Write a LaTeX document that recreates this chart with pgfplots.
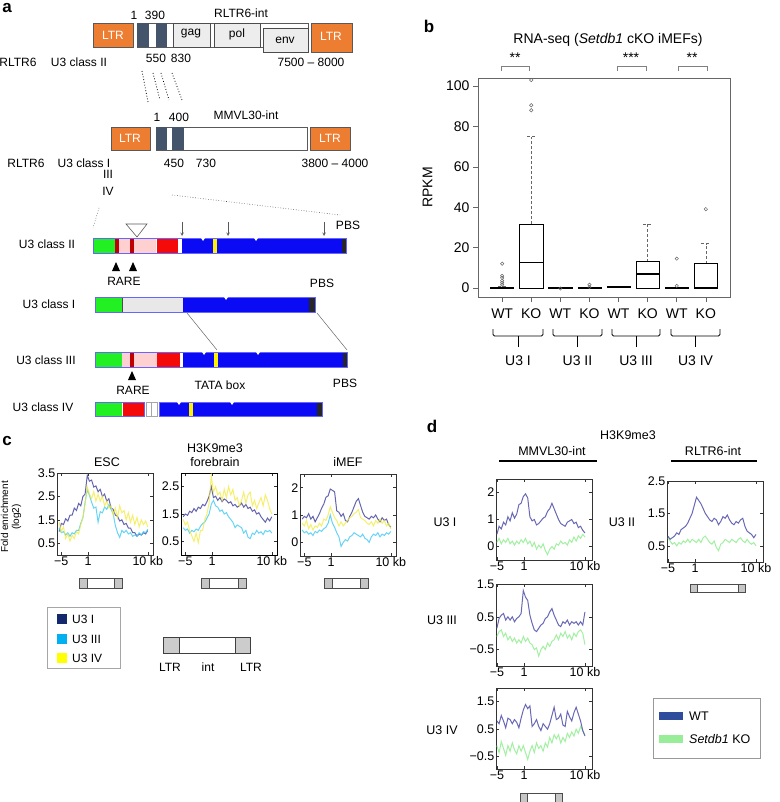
\documentclass[border=0pt]{standalone}
\usepackage{fontspec}
\setmainfont{Liberation Sans}
\usepackage{pgfplots}
\usepackage{pgfplotstable}
\pgfplotsset{compat=1.18}
\usepgfplotslibrary{statistics}

\definecolor{ltr}{HTML}{ED7D31}
\definecolor{slate}{HTML}{44546A}
\definecolor{bblue}{HTML}{0A0AF5}
\definecolor{bgreen}{HTML}{22F022}
\definecolor{bred}{HTML}{F50A0A}
\definecolor{dred}{HTML}{C00000}
\definecolor{bpink}{HTML}{FFD0D0}
\definecolor{byel}{HTML}{FFF200}
\definecolor{cI}{HTML}{4A4AA0}
\definecolor{cIII}{HTML}{4CCDF5}
\definecolor{cIV}{HTML}{F2EA3C}
\definecolor{legI}{HTML}{14286E}
\definecolor{legIII}{HTML}{00B0F0}
\definecolor{legIV}{HTML}{FFFF00}
\definecolor{wt}{HTML}{5858AC}
\definecolor{ko}{HTML}{98EE98}
\definecolor{legwt}{HTML}{2E4D9A}

\newcommand\fa{\fontsize{12}{14}\selectfont}
\newcommand\fc{\fontsize{12.5}{14}\selectfont}
\newcommand\fb{\fontsize{14}{16}\selectfont}

\pgfplotsset{
  prof/.style={scale only axis, anchor=north west, width=96pt,
    xtick={0,31,100}, xticklabels={−5,1,10 kb},
    tick align=inside, major tick length=3pt,
    axis line style={black!80, line width=0.7pt},
    every tick/.style={black!80, line width=0.5pt},
    font=\fc,
    every axis plot/.append style={line width=1pt, mark=none},
    xticklabel style={inner sep=1.5pt}, yticklabel style={inner sep=1.5pt}},
  profc/.style={prof, xmin=-5, xmax=106},
  profd/.style={prof, xmin=-1, xmax=108},
  bp/.style={draw=black, line width=0.6pt, mark=o, mark size=1.7pt,
    mark options={draw=gray!80!black, line width=0.5pt, solid}},
}

\begin{document}
\pgfplotstableread{
x a b c
-2.5 1.00 1.15 1.40
0 1.35 0.95 1.00
2.5 1.30 1.00 1.20
5 1.55 0.85 0.70
7.5 1.45 0.95 0.90
10 1.70 0.80 0.60
12.5 1.70 0.95 0.85
15 2.00 0.90 0.70
17.5 1.90 1.05 1.00
20 2.20 1.05 0.90
22.5 2.10 1.35 1.30
25 2.50 1.60 1.60
27.5 2.60 2.25 2.20
30 3.40 2.80 2.90
32.5 3.15 2.55 2.60
35 3.20 2.25 2.40
37.5 2.90 2.00 2.70
40 2.95 2.05 2.30
42.5 2.70 1.40 2.60
45 2.80 1.85 2.30
47.5 2.50 1.80 2.50
50 2.60 2.05 2.10
52.5 2.30 1.95 2.30
55 2.40 2.15 2.00
57.5 2.00 1.95 2.10
60 1.95 1.75 1.70
62.5 1.70 1.25 2.00
65 1.65 0.95 1.60
67.5 1.45 0.75 2.10
70 1.50 1.05 1.80
72.5 1.30 0.95 1.90
75 1.35 1.05 1.50
77.5 1.15 0.90 1.80
80 1.15 0.95 1.40
82.5 0.95 0.80 1.70
85 0.95 0.85 1.30
87.5 0.80 0.80 1.60
90 0.90 0.95 1.20
92.5 0.85 0.85 1.50
95 0.95 1.00 1.30
97.5 0.90 0.95 1.45
100 1.05 1.10 1.20
}\tESC
\pgfplotstableread{
x a b c
-2.5 1.40 1.00 1.30
0 1.50 0.90 1.10
2.5 1.45 0.95 1.20
5 1.60 0.80 0.90
7.5 1.55 0.90 0.70
10 1.70 0.85 0.50
12.5 1.60 0.95 0.80
15 1.75 0.90 0.45
17.5 1.70 1.05 0.90
20 1.85 1.15 0.90
22.5 1.80 1.20 1.30
25 1.95 1.35 1.50
27.5 2.15 1.50 1.90
30 2.50 1.85 2.90
32.5 2.10 2.00 2.30
35 2.15 1.80 2.50
37.5 2.00 1.75 2.20
40 2.10 1.60 2.30
42.5 1.95 1.65 2.00
45 2.05 1.50 2.40
47.5 2.00 1.55 2.10
50 1.90 1.40 2.50
52.5 1.95 1.30 2.20
55 1.80 1.20 2.40
57.5 1.85 1.00 2.00
60 1.75 1.10 2.10
62.5 1.80 1.05 1.80
65 1.90 1.00 2.00
67.5 1.75 0.80 2.30
70 1.85 0.90 1.90
72.5 1.70 0.65 2.20
75 1.75 0.60 2.30
77.5 1.60 0.80 1.80
80 1.65 0.75 2.00
82.5 1.50 0.90 1.70
85 1.55 0.80 1.90
87.5 1.40 0.85 2.10
90 1.30 0.75 1.80
92.5 1.20 0.90 2.20
95 1.35 0.85 2.00
97.5 1.25 0.90 1.70
100 1.40 0.80 1.50
}\tFB
\pgfplotstableread{
x a b c
-2.5 0.85 0.45 0.70
0 0.95 0.35 0.60
2.5 0.90 0.40 0.80
5 1.05 0.30 0.50
7.5 0.85 0.35 0.65
10 0.95 0.25 0.45
12.5 0.75 0.40 0.60
15 0.90 0.35 0.55
17.5 1.05 0.45 0.70
20 1.25 0.40 0.60
22.5 1.40 0.50 0.85
25 1.65 0.55 0.80
27.5 1.70 0.70 1.00
30 1.95 1.00 1.30
32.5 1.90 0.70 1.10
35 1.85 0.55 0.90
37.5 1.15 0.35 0.80
40 1.10 0.20 0.60
42.5 0.95 -0.15 0.75
45 1.05 0.00 0.60
47.5 0.80 0.10 0.70
50 0.75 0.05 0.80
52.5 0.95 0.20 0.90
55 1.10 0.25 0.95
57.5 1.30 0.35 1.05
60 1.50 0.30 1.10
62.5 1.60 0.25 1.20
65 1.35 0.20 0.90
67.5 1.10 0.30 0.85
70 0.95 0.15 0.80
72.5 0.90 0.10 0.70
75 0.85 0.00 0.65
77.5 0.95 0.20 0.75
80 0.90 0.30 0.60
82.5 1.00 0.25 0.80
85 0.85 0.35 0.70
87.5 0.75 0.20 0.85
90 0.90 0.30 0.70
92.5 0.80 0.25 0.80
95 0.85 0.35 0.60
97.5 0.65 0.30 0.70
100 0.55 0.40 0.50
}\tMEF
\pgfplotstableread{
x wt ko
0 0.45 0.15
2.5 0.75 0.30
5 0.65 0.10
7.5 0.90 0.25
10 0.80 0.15
12.5 1.10 0.30
15 0.95 0.10
17.5 1.25 0.20
20 1.05 0.05
22.5 1.20 0.20
25 1.55 0.10
27.5 1.60 0.25
30 1.85 0.15
32.5 1.95 0.30
35 1.80 0.10
37.5 1.10 0.20
40 0.95 0.00
42.5 1.00 0.15
45 0.80 -0.10
47.5 0.85 0.05
50 0.95 -0.05
52.5 1.05 0.10
55 1.10 -0.15
57.5 1.30 -0.30
60 1.40 -0.10
62.5 1.60 0.00
65 1.40 -0.10
67.5 1.20 0.10
70 1.00 0.05
72.5 0.85 0.20
75 0.80 0.10
77.5 0.75 0.15
80 0.90 0.05
82.5 0.95 0.25
85 1.00 0.15
87.5 0.85 0.35
90 0.90 0.20
92.5 0.70 0.40
95 0.75 0.30
97.5 0.60 0.45
100 0.50 0.35
}\tdI
\pgfplotstableread{
x wt ko
0 0.15 -0.10
2.5 0.45 0.05
5 0.55 0.10
7.5 0.60 -0.10
10 0.40 0.00
12.5 0.50 -0.20
15 0.40 -0.10
17.5 0.50 -0.25
20 0.35 -0.15
22.5 0.45 -0.30
25 0.50 -0.20
27.5 0.60 -0.30
30 1.30 -0.10
32.5 1.10 -0.25
35 1.00 -0.15
37.5 0.55 -0.30
40 0.30 -0.35
42.5 0.10 -0.50
45 0.05 -0.45
47.5 0.15 -0.70
50 0.25 -0.50
52.5 0.30 -0.40
55 0.45 -0.50
57.5 0.50 -0.30
60 0.65 -0.40
62.5 0.75 -0.25
65 0.55 -0.20
67.5 0.40 -0.05
70 0.25 -0.20
72.5 0.20 0.00
75 0.35 -0.10
77.5 0.30 0.05
80 0.40 -0.15
82.5 0.25 -0.05
85 0.35 -0.20
87.5 0.30 0.00
90 0.35 -0.10
92.5 0.25 0.05
95 0.35 0.10
97.5 0.25 0.00
100 0.65 -0.35
}\tdIII
\pgfplotstableread{
x wt ko
0 0.80 -0.10
2.5 0.70 -0.35
5 1.00 0.05
7.5 0.80 -0.20
10 0.55 -0.45
12.5 0.90 -0.10
15 0.85 -0.30
17.5 0.70 0.00
20 0.85 -0.25
22.5 0.75 -0.40
25 0.55 -0.10
27.5 0.90 -0.30
30 1.20 -0.10
32.5 1.40 -0.35
35 1.25 -0.60
37.5 1.35 -0.30
40 0.60 -0.10
42.5 0.70 -0.35
45 0.85 0.00
47.5 0.60 -0.20
50 0.45 -0.10
52.5 0.70 -0.30
55 0.60 0.00
57.5 0.50 -0.15
60 0.70 0.20
62.5 1.00 0.00
65 1.30 0.30
67.5 0.85 0.15
70 0.90 0.30
72.5 1.05 0.00
75 0.65 0.20
77.5 0.60 0.05
80 1.15 0.35
82.5 0.95 0.20
85 0.80 0.40
87.5 1.10 0.25
90 1.30 0.50
92.5 1.05 0.35
95 0.80 0.60
97.5 0.45 0.45
100 0.25 0.30
}\tdIV
\pgfplotstableread{
x wt ko
0 0.80 0.75
2.5 0.70 0.65
5 0.75 0.55
7.5 0.80 0.60
10 0.90 0.50
12.5 0.85 0.60
15 1.00 0.55
17.5 1.05 0.65
20 1.10 0.60
22.5 1.20 0.70
25 1.35 0.60
27.5 1.50 0.70
30 1.75 0.65
32.5 2.00 0.60
35 1.90 0.70
37.5 1.80 0.60
40 1.65 0.75
42.5 1.50 0.80
45 1.40 0.70
47.5 1.30 0.60
50 1.25 0.55
52.5 1.35 0.65
55 1.30 0.45
57.5 1.15 0.35
60 1.25 0.55
62.5 1.40 0.60
65 1.35 0.70
67.5 1.45 0.65
70 1.30 0.60
72.5 1.20 0.70
75 1.15 0.65
77.5 1.25 0.60
80 1.20 0.70
82.5 1.30 0.75
85 1.35 0.65
87.5 1.10 0.60
90 0.95 0.70
92.5 0.90 0.60
95 0.85 0.55
97.5 0.75 0.60
100 0.85 0.50
}\tdII

\begin{tikzpicture}[x=1pt,y=1pt]
\useasboundingbox (0pt,0pt) rectangle (779pt,-802pt);

\begin{scope}[y=-1pt, lab/.style={font=\fa, inner sep=0pt}, labc/.style={font=\fc, inner sep=0pt}]
% ---------------- panel letters
\node[font=\fontsize{17}{17}\selectfont\bfseries, inner sep=0pt] at (7,8) {a};
\node[font=\fontsize{17}{17}\selectfont\bfseries, inner sep=0pt] at (429,26) {b};
\node[font=\fontsize{17}{17}\selectfont\bfseries, inner sep=0pt] at (7,441) {c};
\node[font=\fontsize{17}{17}\selectfont\bfseries, inner sep=0pt] at (432,426) {d};

% ---------------- panel a : RLTR6-int
\filldraw[fill=ltr, draw=gray!70!black, line width=0.5pt] (93,23) rectangle (133,47);
\node[lab, white] at (113,35) {LTR};
\filldraw[fill=white, draw=gray!70!black, line width=0.6pt] (137,23) rectangle (308,47);
\fill[slate] (137,23) rectangle (149,47);
\fill[slate] (156,23) rectangle (167,47);
\filldraw[fill=black!7, draw=gray!60!black, line width=0.6pt] (173,23) rectangle (210,47);
\filldraw[fill=black!7, draw=gray!60!black, line width=0.6pt] (214,23) rectangle (260,47);
\filldraw[fill=black!7, draw=gray!60!black, line width=0.6pt] (263,28) rectangle (308,52);
\node[lab] at (191,34) {gag};
\node[lab] at (237,34) {pol};
\node[lab] at (285,40) {env};
\filldraw[fill=ltr, draw=gray!70!black, line width=0.5pt] (311,23) rectangle (352,52);
\node[lab, white] at (331,36) {LTR};
\node[lab] at (134,15) {1};
\node[lab] at (155,15) {390};
\node[lab] at (241,13) {RLTR6-int};
\node[lab] at (156,58) {550};
\node[lab] at (181,58) {830};
\node[lab] at (311,62) {7500 – 8000};
\node[lab] at (18,62) {RLTR6};
\node[lab] at (79,62) {U3 class II};
\draw[black, dotted, line width=0.8pt] (142,71)--(148,102);
\draw[black, dotted, line width=0.8pt] (153,73)--(160,100);
\draw[black, dotted, line width=0.8pt] (161,73)--(169,100);
\draw[black, dotted, line width=0.8pt] (172,73)--(182,100);

% ---------------- panel a : MMVL30-int
\filldraw[fill=ltr, draw=gray!70!black, line width=0.5pt] (111,127) rectangle (150,150);
\node[lab, white] at (130,138) {LTR};
\filldraw[fill=white, draw=gray!70!black, line width=0.6pt] (156,127) rectangle (307,150);
\fill[slate] (156,127) rectangle (167,150);
\fill[slate] (172,127) rectangle (184,150);
\filldraw[fill=ltr, draw=gray!70!black, line width=0.5pt] (310,127) rectangle (350,150);
\node[lab, white] at (330,138) {LTR};
\node[lab] at (157,117) {1};
\node[lab] at (179,117) {400};
\node[lab] at (246,115) {MMVL30-int};
\node[lab] at (174,163) {450};
\node[lab] at (206,163) {730};
\node[lab] at (335,163) {3800 – 4000};
\node[lab] at (26,163) {RLTR6};
\node[lab] at (84,163) {U3 class I};
\node[lab] at (108,174) {III};
\node[lab] at (108,191) {IV};
\draw[black!70, dotted, line width=0.6pt] (172,195)--(340,215);
\draw[black!70, dotted, line width=0.6pt] (99,208)--(93,228);

% ---------------- U3 class II bar
\fill[bgreen] (93,238) rectangle (115,253);
\fill[dred] (115,238) rectangle (119,253);
\fill[bpink] (119,238) rectangle (156,253);
\fill[dred] (130,238) rectangle (134,253);
\fill[bred] (157,238) rectangle (178,253);
\fill[white] (178,238) rectangle (182,253);
\fill[bblue] (182,238) rectangle (342,253);
\fill[byel] (213,238) rectangle (217,253);
\fill[black!85] (342,238) rectangle (346,253);
\draw[blue!60, line width=0.5pt] (93,238) rectangle (346,253);
\fill[white] (201,238)--(205,238)--(203,241)--cycle;
\fill[white] (254,238)--(258,238)--(256,241)--cycle;
\draw[gray!70!black, line width=0.6pt] (126,224)--(147,224)--(137,237)--cycle;
\draw[gray!70!black, line width=0.6pt, ->, >=stealth] (182,222)--(182,236);
\draw[gray!70!black, line width=0.6pt, ->, >=stealth] (228,222)--(228,236);
\draw[gray!70!black, line width=0.6pt, ->, >=stealth] (324,222)--(324,236);
\node[lab] at (348,225) {PBS};
\fill[black] (112,271)--(120,271)--(116,262)--cycle;
\fill[black] (129,271)--(137,271)--(133,262)--cycle;
\node[lab] at (124,281) {RARE};
\node[lab] at (47,244) {U3 class II};

% ---------------- U3 class I bar
\fill[bgreen] (95,297) rectangle (122,312);
\filldraw[fill=black!9, draw=gray!60!black, line width=0.5pt] (122,297) rectangle (183,312);
\fill[bblue] (183,297) rectangle (309,312);
\fill[black!85] (309,297) rectangle (315,312);
\draw[blue!60, line width=0.5pt] (95,297) rectangle (315,312);
\fill[white] (224,297)--(228,297)--(226,300)--cycle;
\node[lab] at (322,283) {PBS};
\node[lab] at (49,304) {U3 class I};
\draw[gray!80!black, line width=0.5pt] (187,313)--(217,350);
\draw[gray!80!black, line width=0.5pt] (317,313)--(347,350);

% ---------------- U3 class III bar
\fill[bgreen] (95,352) rectangle (122,367);
\fill[bpink] (122,352) rectangle (157,367);
\fill[dred] (130,352) rectangle (134,367);
\fill[bred] (157,352) rectangle (180,367);
\fill[white] (180,352) rectangle (183,367);
\fill[bblue] (183,352) rectangle (343,367);
\fill[byel] (214,352) rectangle (218,367);
\fill[black!85] (343,352) rectangle (347,367);
\draw[blue!60, line width=0.5pt] (95,352) rectangle (347,367);
\fill[white] (202,352)--(206,352)--(204,355)--cycle;
\fill[white] (256,352)--(260,352)--(258,355)--cycle;
\fill[black] (128,380)--(136,380)--(132,371)--cycle;
\node[lab] at (133,390) {RARE};
\node[lab] at (220,385) {TATA box};
\node[lab] at (345,383) {PBS};
\node[lab] at (46,360) {U3 class III};

% ---------------- U3 class IV bar
\fill[bgreen] (95,402) rectangle (122,416);
\fill[bred] (123,402) rectangle (144,416);
\draw[gray!70, line width=0.5pt] (146,402) rectangle (151,416);
\draw[gray!70, line width=0.5pt] (151,402) rectangle (157,416);
\fill[bblue] (159,402) rectangle (317,416);
\fill[byel] (189,402) rectangle (193,416);
\fill[black!85] (317,402) rectangle (322,416);
\draw[blue!60, line width=0.5pt] (95,402) rectangle (144,416);
\draw[blue!60, line width=0.5pt] (159,402) rectangle (322,416);
\fill[white] (177,402)--(181,402)--(179,405)--cycle;
\fill[white] (230,402)--(234,402)--(232,405)--cycle;
\node[lab] at (43,407) {U3 class IV};

% ---------------- panel b annotations
\node[font=\fb, inner sep=0pt] at (608,40) {RNA-seq (\textit{Setdb1} cKO iMEFs)};
\draw[gray, line width=0.5pt] (501,71)--(501,66)--(529,66)--(529,71);
\draw[gray, line width=0.5pt] (617,71)--(617,66)--(646,66)--(646,71);
\draw[gray, line width=0.5pt] (678,71)--(678,66)--(707,66)--(707,71);
\node[font=\fb, inner sep=0pt] at (515,58) {**};
\node[font=\fb, inner sep=0pt] at (631,58) {***};
\node[font=\fb, inner sep=0pt] at (692,58) {**};
\foreach \a/\b/\t in {493/543/U3 I, 553/602/U3 II, 612/660/U3 III, 671/720/U3 IV}{
  \draw[black, line width=0.8pt, rounded corners=1.5pt] (\a,329)--(\a,336)--(\b,336)--(\b,329);
  \draw[black, line width=0.8pt] ({(\a+\b)/2},336)--({(\a+\b)/2},347);
  \node[font=\fb, inner sep=0pt] at ({(\a+\b)/2},361) {\t};
}

% ---------------- panel c annotations
\node[labc] at (107,462) {ESC};
\node[labc] at (215,448) {H3K9me3};
\node[labc] at (215,462) {forebrain};
\node[labc] at (348,462) {iMEF};
\node[rotate=90, font=\fontsize{10}{11}\selectfont, align=center, inner sep=0pt] at (11,517) {Fold enrichment\\(log2)};
\foreach \l/\r in {79/122, 201/246, 324/368}{
  \filldraw[fill=white, draw=black!70, line width=0.5pt] (\l,578) rectangle (\r,588);
  \filldraw[fill=gray!45, draw=black!70, line width=0.5pt] (\l,578) rectangle (\l+8,588);
  \filldraw[fill=gray!45, draw=black!70, line width=0.5pt] (\r-8,578) rectangle (\r,588);
}
\draw[gray!70, line width=0.6pt] (47,607) rectangle (120,668);
\fill[legI] (57,614) rectangle (67,624);
\fill[legIII] (57,634) rectangle (67,644);
\fill[legIV] (57,653) rectangle (67,663);
\node[lab, anchor=west] at (72,619) {U3 I};
\node[lab, anchor=west] at (72,639) {U3 III};
\node[lab, anchor=west] at (72,658) {U3 IV};
\filldraw[fill=white, draw=black!75, line width=0.7pt] (163,637) rectangle (250,653);
\filldraw[fill=gray!40, draw=black!75, line width=0.7pt] (163,637) rectangle (179,653);
\filldraw[fill=gray!40, draw=black!75, line width=0.7pt] (235,637) rectangle (250,653);
\node[lab] at (170,667) {LTR};
\node[lab] at (208,667) {int};
\node[lab] at (251,667) {LTR};

% ---------------- panel d annotations
\node[labc] at (628,435) {H3K9me3};
\node[labc] at (552,451) {MMVL30-int};
\node[labc] at (713,451) {RLTR6-int};
\draw[black, line width=1.1pt] (499,461)--(597,461);
\draw[black, line width=1.1pt] (671,461)--(757,461);
\node[labc] at (445,522) {U3 I};
\node[labc] at (442,620) {U3 III};
\node[labc] at (442,730) {U3 IV};
\node[labc] at (622,522) {U3 II};
\foreach \l/\r/\t/\b in {690/745/584/592, 520/562/793/805}{
  \filldraw[fill=white, draw=black!70, line width=0.5pt] (\l,\t) rectangle (\r,\b);
  \filldraw[fill=gray!45, draw=black!70, line width=0.5pt] (\l,\t) rectangle (\l+7,\b);
  \filldraw[fill=gray!45, draw=black!70, line width=0.5pt] (\r-7,\t) rectangle (\r,\b);
}
\draw[gray!80, line width=0.8pt] (653,698) rectangle (760,758);
\fill[legwt] (659,712) rectangle (683,720);
\fill[ko] (659,735) rectangle (683,743);
\node[labc, anchor=west] at (689,716) {WT};
\node[labc, anchor=west] at (689,739) {\textit{Setdb1} KO};
\end{scope}

% ---------------- panel b axis
\begin{axis}[at={(478pt,-78pt)}, anchor=north west, scale only axis, width=252pt, height=219pt,
  xmin=0.17, xmax=8.83, ymin=-4.5, ymax=104,
  xtick={1,2,3,4,5,6,7,8}, xticklabels={WT,KO,WT,KO,WT,KO,WT,KO},
  ytick={0,20,40,60,80,100}, yticklabels={0,20,40,60,80,100},
  tick pos=left, tick align=outside, major tick length=5pt,
  axis line style={draw=gray!80!black, line width=0.6pt},
  every tick/.style={gray!80!black, line width=0.6pt},
  xticklabel style={yshift=-3pt},
  font=\fb, ylabel={RPKM},
  ylabel style={at={(axis description cs:-0.2,0.5)}, anchor=center, rotate=0},
  boxplot/draw direction=y,
  boxplot/every median/.style={line width=1.5pt},
  boxplot/every whisker/.style={densely dashed, gray!80!black, line width=0.6pt},
  boxplot/every box/.style={draw=black, line width=0.6pt},
  boxplot/box extend=0.8, boxplot/whisker extend=0.3]
\addplot[bp, boxplot prepared={draw position=1, median=0, lower quartile=0, upper quartile=0.4, lower whisker=0, upper whisker=1}] coordinates {(0,1.6)(0,2.6)(0,3.6)(0,5)(0,6)(0,12)};
\addplot[bp, boxplot prepared={draw position=2, median=12.5, lower quartile=0, upper quartile=31.5, lower whisker=0, upper whisker=75}] coordinates {(0,88)(0,90.5)(0,103)};
\addplot[bp, boxplot prepared={draw position=3, median=0, lower quartile=0, upper quartile=0.2, lower whisker=0, upper whisker=0.3}] coordinates {(0,-0.3)};
\addplot[bp, boxplot prepared={draw position=4, median=0, lower quartile=0, upper quartile=0.3, lower whisker=0, upper whisker=0.5}] coordinates {(0,0.4)(0,1.6)};
\addplot[bp, boxplot prepared={draw position=5, median=0.5, lower quartile=0.3, upper quartile=0.6, lower whisker=0.2, upper whisker=0.7}] coordinates {};
\addplot[bp, boxplot prepared={draw position=6, median=7, lower quartile=0, upper quartile=13, lower whisker=0, upper whisker=31.5}] coordinates {};
\addplot[bp, boxplot prepared={draw position=7, median=0, lower quartile=0, upper quartile=0.2, lower whisker=0, upper whisker=0.5}] coordinates {(0,1)(0,14.5)};
\addplot[bp, boxplot prepared={draw position=8, median=0, lower quartile=0, upper quartile=12, lower whisker=0, upper whisker=22}] coordinates {(0,39)};
\end{axis}

% ---------------- panel c axes
\begin{axis}[profc, at={(57pt,-473pt)}, height=82pt, ymin=0, ymax=3.5,
  ytick={0.5,1.5,2.5,3.5}, yticklabels={0.5,1.5,2.5,3.5}]
\addplot[cI, opacity=0.85] table[x=x,y=a] {\tESC};
\addplot[cIII, opacity=0.85] table[x=x,y=b] {\tESC};
\addplot[cIV, opacity=0.75] table[x=x,y=c] {\tESC};
\end{axis}
\begin{axis}[profc, at={(181pt,-473pt)}, height=82pt, ymin=0, ymax=3.0,
  ytick={0.5,1.5,2.5}, yticklabels={0.5,1.5,2.5}, axis line style={black, line width=0.9pt}]
\addplot[cI, opacity=0.85] table[x=x,y=a] {\tFB};
\addplot[cIII, opacity=0.85] table[x=x,y=b] {\tFB};
\addplot[cIV, opacity=0.75] table[x=x,y=c] {\tFB};
\end{axis}
\begin{axis}[profc, at={(300pt,-474pt)}, height=82pt, ymin=-0.5, ymax=2.5,
  ytick={0,1,2}, yticklabels={0,1,2}]
\addplot[cI, opacity=0.85] table[x=x,y=a] {\tMEF};
\addplot[cIII, opacity=0.85] table[x=x,y=b] {\tMEF};
\addplot[cIV, opacity=0.75] table[x=x,y=c] {\tMEF};
\end{axis}

% ---------------- panel d axes
\begin{axis}[profd, at={(496pt,-479pt)}, height=81pt, ymin=-0.5, ymax=2.5,
  ytick={0,1,2}, yticklabels={0,1,2}]
\addplot[ko, opacity=0.9] table[x=x,y=ko] {\tdI};
\addplot[wt, opacity=0.9] table[x=x,y=wt] {\tdI};
\end{axis}
\begin{axis}[profd, at={(496pt,-584pt)}, height=82pt, ymin=-1.0, ymax=1.5,
  ytick={-0.5,0.5,1.5}, yticklabels={−0.5,0.5,1.5}]
\addplot[ko, opacity=0.9] table[x=x,y=ko] {\tdIII};
\addplot[wt, opacity=0.9] table[x=x,y=wt] {\tdIII};
\end{axis}
\begin{axis}[profd, at={(496pt,-688pt)}, height=81pt, ymin=-0.95, ymax=2.0,
  ytick={-0.5,0.5,1.5}, yticklabels={−0.5,0.5,1.5}]
\addplot[ko, opacity=0.9] table[x=x,y=ko] {\tdIV};
\addplot[wt, opacity=0.9] table[x=x,y=wt] {\tdIV};
\end{axis}
\begin{axis}[profd, at={(667pt,-481pt)}, height=81pt, ymin=0, ymax=2.5,
  ytick={0.5,1.5,2.5}, yticklabels={0.5,1.5,2.5}]
\addplot[ko, opacity=0.9] table[x=x,y=ko] {\tdII};
\addplot[wt, opacity=0.9] table[x=x,y=wt] {\tdII};
\end{axis}
\end{tikzpicture}
\end{document}
